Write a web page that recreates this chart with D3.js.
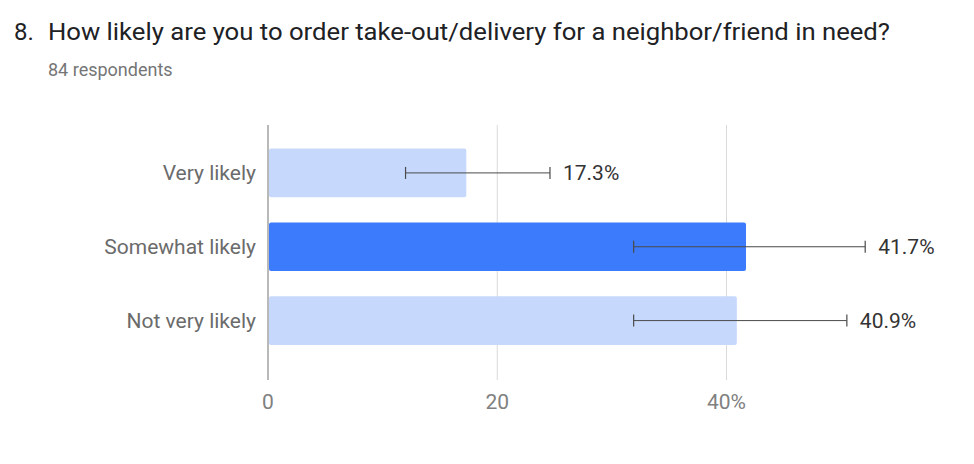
<!DOCTYPE html>
<html><head><meta charset="utf-8">
<script src="https://cdn.jsdelivr.net/npm/d3@7"></script>
<style>body{margin:0;background:#fff;font-family:Roboto,"Noto Sans",sans-serif}</style>
</head><body><svg id="c" width="974" height="464"></svg>
<script>
const categories = ["Very likely", "Somewhat likely", "Not very likely"];
const values = [17.3, 41.7, 40.9];
const errLow = [12.0, 31.9, 31.9];
const errHigh = [24.6, 52.1, 50.5];
const valueLabels = ["17.3%", "41.7%", "40.9%"];
const highlighted = [false, true, false];
const xTicks = [0, 20, 40];
const xTickLabels = ["0", "20", "40%"];

const svg = d3.select("#c");
const x = d3.scaleLinear().domain([0, 40]).range([268, 726.5]);
const y = d3.scaleBand().domain(categories).range([136, 357.5]).paddingInner(0.34).paddingOuter(0.17);

svg.append("text").attr("x", 14).attr("y", 40).attr("font-size", 24).attr("fill", "#202124").text("8.");
svg.append("text").attr("x", 48).attr("y", 40).attr("font-size", 24).attr("fill", "#202124")
  .attr("textLength", 842).attr("lengthAdjust", "spacingAndGlyphs")
  .text("How likely are you to order take-out/delivery for a neighbor/friend in need?");
svg.append("text").attr("x", 48).attr("y", 76).attr("font-size", 18).attr("fill", "#757575").text("84 respondents");

// gridlines
svg.selectAll(".grid").data(xTicks.slice(1)).join("line")
  .attr("x1", d => x(d)).attr("x2", d => x(d)).attr("y1", 125).attr("y2", 380)
  .attr("stroke", "#dadada").attr("stroke-width", 1);

// bars
svg.selectAll(".bar").data(categories).join("rect")
  .attr("x", x(0) + 1).attr("y", d => y(d))
  .attr("width", (d, i) => x(values[i]) - x(0) - 1).attr("height", y.bandwidth())
  .attr("rx", 2).attr("fill", (d, i) => highlighted[i] ? "#3d7bfd" : "#c6d9fc");

// zero axis
svg.append("line").attr("x1", x(0)).attr("x2", x(0)).attr("y1", 125).attr("y2", 380)
  .attr("stroke", "#8a8a8a").attr("stroke-width", 1.2);

// error bars
const eb = svg.selectAll(".eb").data(categories).join("g");
eb.append("line").attr("x1", (d, i) => x(errLow[i])).attr("x2", (d, i) => x(errHigh[i]))
  .attr("y1", d => y(d) + y.bandwidth() / 2).attr("y2", d => y(d) + y.bandwidth() / 2)
  .attr("stroke", "#4a4a4a").attr("stroke-width", 1);
eb.append("line").attr("x1", (d, i) => x(errLow[i])).attr("x2", (d, i) => x(errLow[i]))
  .attr("y1", d => y(d) + y.bandwidth() / 2 - 6).attr("y2", d => y(d) + y.bandwidth() / 2 + 6)
  .attr("stroke", "#4a4a4a").attr("stroke-width", 1.2);
eb.append("line").attr("x1", (d, i) => x(errHigh[i])).attr("x2", (d, i) => x(errHigh[i]))
  .attr("y1", d => y(d) + y.bandwidth() / 2 - 6).attr("y2", d => y(d) + y.bandwidth() / 2 + 6)
  .attr("stroke", "#4a4a4a").attr("stroke-width", 1.2);
eb.append("text").attr("x", (d, i) => x(errHigh[i]) + 13).attr("y", d => y(d) + y.bandwidth() / 2)
  .attr("dy", "0.35em").attr("font-size", 21).attr("fill", "#333").text((d, i) => valueLabels[i]);

// category labels
svg.selectAll(".cat").data(categories).join("text")
  .attr("x", 256).attr("y", d => y(d) + y.bandwidth() / 2).attr("dy", "0.35em")
  .attr("text-anchor", "end").attr("font-size", 21).attr("fill", "#6b6b6b").text(d => d);

// x tick labels
svg.selectAll(".xt").data(xTicks).join("text")
  .attr("x", d => x(d)).attr("y", 409).attr("text-anchor", "middle")
  .attr("font-size", 21).attr("fill", "#808080").text((d, i) => xTickLabels[i]);
</script></body></html>
